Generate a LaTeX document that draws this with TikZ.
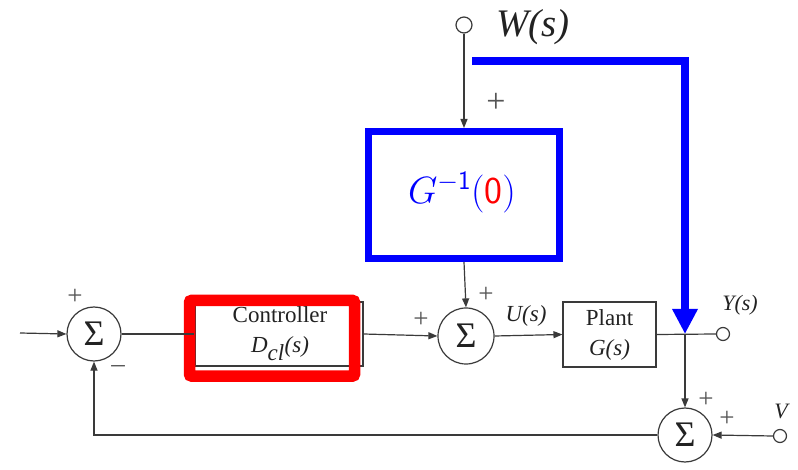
\documentclass[tikz,border=0pt]{standalone}
\usepackage{fix-cm}
\usepackage{fontspec}
\setmainfont{Liberation Serif}
\usetikzlibrary{arrows.meta}
\definecolor{ln}{HTML}{3A3A3A}
\definecolor{tx}{HTML}{222222}
\definecolor{sg}{HTML}{555555}
\definecolor{bl}{RGB}{0,0,255}
\definecolor{rd}{RGB}{255,0,0}
\begin{document}
\begin{tikzpicture}[x=1pt,y=-1pt,
  wire/.style={draw=ln,line width=1.2pt},
  arr/.style={wire,-{Triangle[length=9pt,width=7pt]}},
  sumc/.style={circle,draw=ln,line width=1.2pt,minimum size=54pt,inner sep=0pt,font=\fontsize{36}{36}\selectfont,text=tx},
  term/.style={circle,draw=ln,line width=1.2pt,minimum size=13pt,inner sep=0pt,fill=white},
  lbl/.style={font=\fontsize{23}{26}\selectfont,text=tx,inner sep=0pt},
  sgn/.style={font=\fontsize{27}{27}\selectfont,text=sg,inner sep=0pt},
  blk/.style={draw=ln,line width=1.1pt,inner sep=0pt}
]
\useasboundingbox (0,0) rectangle (798,470);
% summing junctions
\node[sumc] (s1) at (94,334) {Σ};
\node[sumc,minimum size=56pt] (s2) at (466,336) {Σ};
\node[sumc] (s3) at (685,435) {Σ};
% controller
\node[blk,minimum width=168pt,minimum height=64pt] (ctrl) at (279,334) {};
\draw[rd,line width=11.5pt,rounded corners=2pt] (189.5,300.5) rectangle (354.5,376);
\node[lbl,align=center] (ctxt) at (280,334) {Controller\\[4pt] \textit{D}$_{\textit{cl}}$\textit{(s)}};
% plant
\node[blk,minimum width=93pt,minimum height=65pt] (plant) at (609.5,334.5) {};
\node[lbl,align=center] (ptxt) at (609.5,335) {Plant\\[4pt] \textit{G(s)}};
% G inverse box
\node[draw=bl,line width=7pt,minimum width=191pt,minimum height=127pt,inner sep=0pt] (ginv) at (464,195) {};
\node[font=\fontsize{38}{38}\selectfont,text=bl] (gtxt) at (462,192) {$G^{-\mathsf{1}}\mathsf{(}\textcolor{rd}{\mathsf{0}}\mathsf{)}$};
% terminals
\node[term,minimum size=16pt] (w) at (464,25) {};
\node[term] (y) at (723,334) {};
\node[term] (v) at (780,436) {};
\coordinate (in) at (20,333);
\coordinate (j) at (685,334);
\coordinate (fb) at (94,435);
% labels
\node[font=\fontsize{39}{39}\selectfont\itshape,text=tx,anchor=west,inner sep=0pt] (wl) at (496,27) {W(s)};
\node[lbl,font=\fontsize{23}{23}\selectfont\itshape] (ul) at (526,316) {U(s)};
\node[lbl,font=\fontsize{22}{22}\selectfont\itshape] (yl) at (740,305) {Y(s)};
\node[lbl,font=\fontsize{22}{22}\selectfont\itshape] (vl) at (781,411) {V};
\node[sgn] (p1) at (75,297) {+};
\node[sgn] (m1) at (118,369) {–};
\node[sgn] (p2) at (421,320) {+};
\node[sgn] (p3) at (486,295) {+};
\node[sgn,font=\fontsize{34}{34}\selectfont] (p4) at (496,103) {+};
\node[sgn] (p5) at (706,400) {+};
\node[sgn] (p6) at (727,419) {+};
% connectors
\draw[arr] (in) -- (s1.west);
\draw[wire] (s1.east) -- (ctrl.west);
\draw[arr] (ctrl.east) -- (s2.west);
\draw[arr] (ginv.south) -- (s2.north);
\draw[arr] (s2.east) -- (plant.west);
\draw[wire] (plant.east) -- (y.west);
\draw[arr] (j) -- (s3.north);
\draw[arr] (v.west) -- (s3.east);
\draw[arr] (s3.west) -- (fb) -- (s1.south);
\draw[arr] (w.south) -- (ginv.north);
% blue disturbance path
\coordinate (b1) at (472,61);
\coordinate (b2) at (685,61);
\draw[bl,line width=7.5pt,-{Triangle[length=25pt,width=24pt]}] (b1) -- (b2) -- (j);
\end{tikzpicture}
\end{document}
